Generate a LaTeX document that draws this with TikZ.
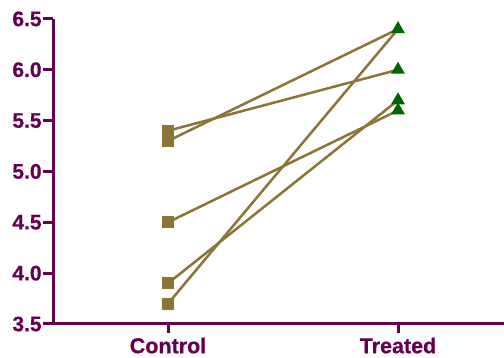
\documentclass[tikz,border=0pt]{standalone}
\usepackage{fontspec}
\setmainfont{Liberation Sans}
\newfontfamily\labfont{Liberation Sans Bold}[FakeBold=0.6]
\usetikzlibrary{shapes.geometric}
\definecolor{axpurple}{RGB}{100,0,80}
\definecolor{olive}{RGB}{139,117,54}
\definecolor{tgreen}{RGB}{0,100,0}
\tikzset{
  axisline/.style={draw=axpurple,line width=3pt},
  dataline/.style={draw=olive,line width=2.5pt},
  sqmark/.style={rectangle,fill=olive,minimum size=12pt,inner sep=0pt},
  trimark/.style={regular polygon,regular polygon sides=3,fill=tgreen,minimum size=16pt,inner sep=0pt},
  ticklab/.style={text=axpurple,font=\labfont\fontsize{21}{24}\selectfont,anchor=east,inner sep=0pt},
  xlab/.style={text=axpurple,font=\labfont\fontsize{21.5}{24}\selectfont,anchor=base,inner sep=0pt}
}
\begin{document}
\begin{tikzpicture}[x=1pt,y=1pt]
\useasboundingbox (0,0) rectangle (504,358);
\pgfmathsetmacro{\ys}{101.7}
% axes
\coordinate (o) at (53,34);
\coordinate (top) at (53,339.1);
\coordinate (xend) at (504,34);
\draw[axisline] (top) -- (o) -- (xend);
% y ticks
\foreach \v/\t/\k in {3.5/3.5/a,4.0/4.0/b,4.5/4.5/c,5.0/5.0/d,5.5/5.5/e,6.0/6.0/f,6.5/6.5/g}{
  \pgfmathsetmacro{\yy}{34+(\v-3.5)*\ys}
  \coordinate (tk\k) at (43,\yy);
  \coordinate (ta\k) at (53,\yy);
  \draw[axisline] (tk\k) -- (ta\k);
  \node[ticklab] (lab\k) at (41.8,\yy) {\t};
}
% x ticks
\coordinate (cx) at (168,34);
\coordinate (cxb) at (168,24.5);
\coordinate (tx) at (398,34);
\coordinate (txb) at (398,24.5);
\draw[axisline] (cx) -- (cxb);
\draw[axisline] (tx) -- (txb);
\node[xlab] (lc) at (168,4.8) {Control};
\node[xlab] (lt) at (398,4.8) {Treated};
% data points
\foreach \n/\x/\v in {c1/168/5.4,c2/168/5.3,c3/168/4.5,c4/168/3.9,c5/168/3.7,
                      t1/398/6.0,t2/398/6.4,t3/398/5.6,t4/398/5.7,t5/398/6.4}{
  \pgfmathsetmacro{\yy}{34+(\v-3.5)*\ys}
  \coordinate (\n) at (\x,\yy);
}
\draw[dataline] (c1) -- (t1);
\draw[dataline] (c2) -- (t2);
\draw[dataline] (c3) -- (t3);
\draw[dataline] (c4) -- (t4);
\draw[dataline] (c5) -- (t5);
\foreach \n in {c1,c2,c3,c4,c5}{\node[sqmark] (m\n) at (\n) {};}
\foreach \n in {t1,t2,t3,t4}{\node[trimark] (m\n) at (\n) {};}
\end{tikzpicture}
\end{document}
